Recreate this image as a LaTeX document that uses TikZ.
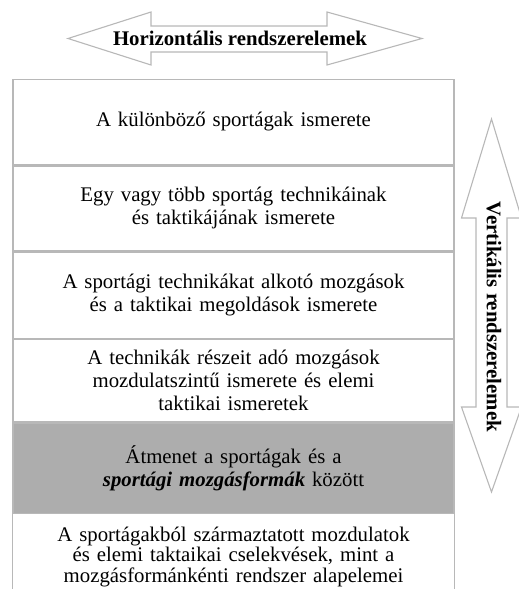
\documentclass[tikz,border=0pt]{standalone}
\usepackage{fontspec}
\setmainfont{Liberation Serif}
\usetikzlibrary{positioning}
\definecolor{framegray}{gray}{0.72}
\definecolor{fillgray}{gray}{0.68}

\begin{document}
\begin{tikzpicture}[x=1pt, y=-1pt,
  layer/.style={rectangle, draw=framegray, line width=1.3pt, minimum width=441pt, text width=425pt, align=center, inner sep=0pt, font=\fontsize{20.8}{23}\selectfont},
  bigarrow/.style={draw=framegray, line width=1.1pt, fill=white},
  arrowtext/.style={font=\fontsize{20.8}{23}\selectfont\bfseries, inner sep=0pt}
]
\clip (0,0) rectangle (519,589);
% horizontal double arrow
\draw[bigarrow] (68,38.5) -- (151,12) -- (151,26) -- (327,26) -- (327,12) -- (422,38.5)
  -- (327,65) -- (327,52) -- (151,52) -- (151,65) -- cycle;
\node[arrowtext, anchor=base] (horiz) at (240,45) {Horizontális rendszerelemek};
% vertical double arrow
\draw[bigarrow] (491.5,119) -- (521.5,218) -- (507,218) -- (507,407) -- (521.5,407) -- (491.5,492)
  -- (461.5,407) -- (476,407) -- (476,218) -- (461.5,218) -- cycle;
\node[arrowtext, rotate=-90] (vert) at (494,317) {Vertikális rendszerelemek};
% levels
\node[layer, minimum height=85.5pt, anchor=north] (k1) at (233.5,78.5) {A különböző sportágak ismerete};
\node[layer, minimum height=85pt, below=0pt of k1] (k2) {Egy vagy több sportág technikáinak\\ és taktikájának ismerete};
\node[layer, minimum height=86pt, below=0pt of k2] (k3) {A sportági technikákat alkotó mozgások\\ és a taktikai megoldások ismerete};
\node[layer, minimum height=82.5pt, below=0pt of k3] (k4) {A technikák részeit adó mozgások\\ mozdulatszintű ismerete és elemi\\ taktikai ismeretek};
\node[layer, fill=fillgray, minimum height=90pt, below=0pt of k4] (k5) {Átmenet a sportágak és a\\ \textbf{\textit{sportági mozgásformák}} között};
\node[layer, draw=none, font=\fontsize{20.8}{20.5}\selectfont, minimum height=84pt, below=0pt of k5] (k6) {A sportágakból származtatott mozdulatok\\ és elemi taktaikai cselekvések, mint a\\ mozgásformánkénti rendszer alapelemei};
% last level runs on below the page
\draw[framegray, line width=1.3pt] ([yshift=-10pt]k6.south west) -- (k6.north west);
\draw[framegray, line width=1.3pt] ([yshift=-10pt]k6.south east) -- (k6.north east);
\end{tikzpicture}
\end{document}
